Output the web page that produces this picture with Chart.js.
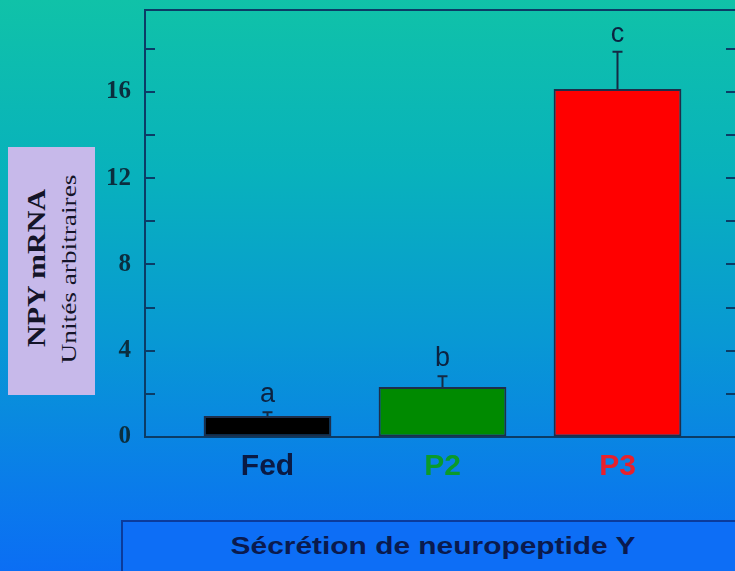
<!DOCTYPE html>
<html>
<head>
<meta charset="utf-8">
<script src="https://cdn.jsdelivr.net/npm/chart.js@4"></script>
<style>
  html, body { margin: 0; padding: 0; width: 735px; height: 571px; overflow: hidden; }
  body {
    position: relative;
    background: linear-gradient(to bottom, #10c2a8 0%, #08b2bc 30%, #0898d4 60%, #0a7cea 85%, #0b6ef4 100%);
    font-family: "Liberation Sans", Arial, sans-serif;
  }
  #wrap { position: absolute; left: 0; top: 0; width: 750px; height: 571px; }
  #ybox { position: absolute; left: 8px; top: 147px; width: 87px; height: 248px; background: #c7b9ea; }
  .rot { position: absolute; white-space: nowrap; color: #141428; }
  #ymain { left: 29px; top: 121px; transform: translate(-50%, -50%) rotate(-90deg) scaleX(1.2);
           font: bold 25px "Liberation Serif", "Times New Roman", serif; }
  #ysub { left: 61px; top: 122px; transform: translate(-50%, -50%) rotate(-90deg) scaleX(1.3);
          font: 21px "Liberation Serif", "Times New Roman", serif; }
  #xbox { position: absolute; left: 121px; top: 520px; width: 640px; height: 80px; border: 2px solid #0b3b9c; box-sizing: border-box; background: #0d6ef6; }
  #xtitle { position: absolute; left: 433px; top: 546px; transform: translate(-50%, -50%) scaleX(1.3); white-space: nowrap;
            font: bold 23px "Liberation Sans", Arial, sans-serif; color: #0a1a4e; }
</style>
</head>
<body>
<div id="wrap"><canvas id="chart" width="750" height="571"></canvas></div>
<div id="ybox">
  <div class="rot" id="ymain">NPY mRNA</div>
  <div class="rot" id="ysub">Unités arbitraires</div>
</div>
<div id="xbox"></div>
<div id="xtitle">Sécrétion de neuropeptide Y</div>
<script>
// Groups and their measured NPY mRNA levels (arbitrary units)
const categories = ['Fed', 'P2', 'P3'];
const values = [0.97, 2.32, 16.14];
const errors = [0.18, 0.5, 1.72];
const letters = ['a', 'b', 'c'];
const barColors = ['#000000', '#008a00', '#ff0000'];
const labelColors = ['#0a1a44', '#0a9a2a', '#e8202c'];
const yTickLabels = [0, 4, 8, 12, 16];

const axisColor = '#0b3c66';

// Inward tick marks on both sides, the top frame line, error bars and letters
const decorations = {
  id: 'decorations',
  afterDatasetsDraw(chart) {
    const { ctx, chartArea, scales } = chart;
    const y = scales.y;
    ctx.save();
    ctx.strokeStyle = axisColor;
    ctx.lineWidth = 2;
    // top frame
    ctx.beginPath();
    ctx.moveTo(chartArea.left, chartArea.top);
    ctx.lineTo(chartArea.right, chartArea.top);
    ctx.stroke();
    // tick marks every 2 units
    y.ticks.forEach(t => {
      if (t.value === 0) return;
      const py = Math.round(y.getPixelForValue(t.value));
      ctx.beginPath();
      ctx.moveTo(chartArea.left, py);
      ctx.lineTo(chartArea.left + 10, py);
      ctx.moveTo(chartArea.right, py);
      ctx.lineTo(chartArea.right - 14, py);
      ctx.stroke();
    });
    // error bars and significance letters
    const meta = chart.getDatasetMeta(0);
    meta.data.forEach((bar, i) => {
      const px = bar.x;
      const top = y.getPixelForValue(values[i]);
      const hi = y.getPixelForValue(values[i] + errors[i]);
      ctx.strokeStyle = '#142a44';
      ctx.lineWidth = 2;
      ctx.beginPath();
      ctx.moveTo(px, top);
      ctx.lineTo(px, hi);
      ctx.moveTo(px - 5, hi);
      ctx.lineTo(px + 5, hi);
      ctx.stroke();
      ctx.fillStyle = '#0c2240';
      ctx.font = '27px "Liberation Sans", Arial, sans-serif';
      ctx.textAlign = 'center';
      ctx.textBaseline = 'alphabetic';
      ctx.fillText(letters[i], px, hi - 10);
    });
    ctx.restore();
  }
};

new Chart(document.getElementById('chart'), {
  type: 'bar',
  data: {
    datasets: [{
      data: categories.map((c, i) => ({ x: i + 1, y: values[i] })),
      backgroundColor: barColors,
      borderColor: '#1e2e4a',
      borderWidth: 2,
      borderSkipped: false,
      barPercentage: 0.73,
      categoryPercentage: 1
    }]
  },
  options: {
    responsive: false,
    animation: false,
    events: [],
    layout: { padding: { top: 10, right: 10, left: 0, bottom: 0 } },
    plugins: { legend: { display: false }, tooltip: { enabled: false } },
    scales: {
      x: {
        type: 'linear',
        offset: false,
        min: 0.3,
        max: 3.7,
        afterBuildTicks: s => { s.ticks = categories.map((c, i) => ({ value: i + 1 })); },
        afterFit: s => { s.height = 134; s.paddingLeft = 0; s.paddingRight = 0; },
        grid: { display: true, offset: false, drawOnChartArea: false, drawTicks: false },
        border: { display: true, color: axisColor, width: 2 },
        ticks: {
          padding: 12,
          autoSkip: false,
          maxRotation: 0,
          callback: v => categories[v - 1] || '',
          color: ctx => labelColors[ctx.index] || '#000',
          font: { family: '"Liberation Sans", Arial, sans-serif', size: 30, weight: 'bold' }
        }
      },
      y: {
        min: 0,
        max: 19.8,
        afterBuildTicks: s => {
          const t = [];
          for (let v = 0; v <= 18; v += 2) t.push({ value: v });
          s.ticks = t;
        },
        afterFit: s => { s.width = 145; s.paddingTop = 0; s.paddingBottom = 0; },
        grid: { display: true, drawOnChartArea: false, drawTicks: false },
        border: { display: true, color: axisColor, width: 2 },
        ticks: {
          padding: 14,
          callback: v => yTickLabels.includes(v) ? String(v) : '',
          color: '#0b2e3e',
          font: { family: '"Liberation Serif", "Times New Roman", serif', size: 25, weight: 'bold' }
        }
      }
    }
  },
  plugins: [decorations]
});
</script>
</body>
</html>
